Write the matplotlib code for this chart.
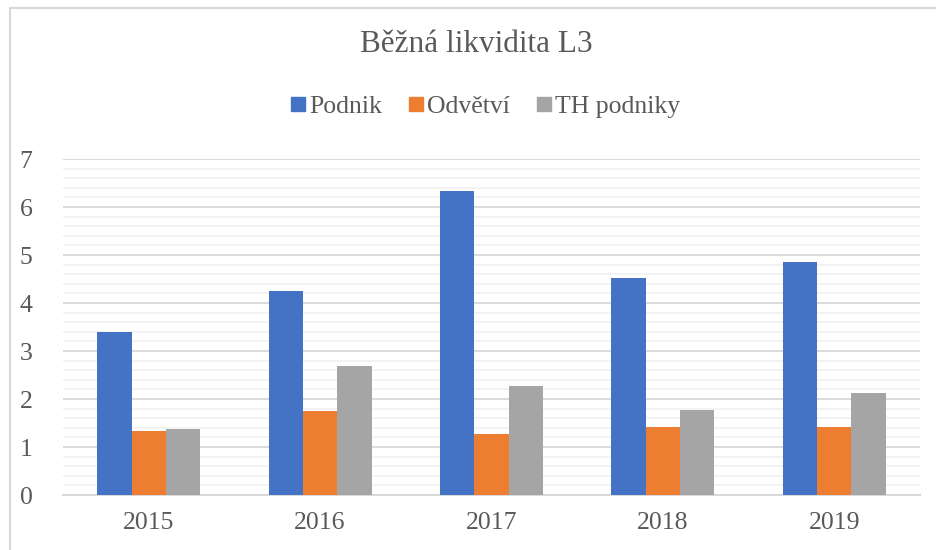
import numpy as np
import matplotlib.pyplot as plt
from matplotlib.lines import Line2D

years = ["2015", "2016", "2017", "2018", "2019"]
podnik = [3.40, 4.26, 6.34, 4.52, 4.86]
odvetvi = [1.33, 1.76, 1.28, 1.41, 1.41]
th_podniky = [1.38, 2.69, 2.28, 1.78, 2.13]
series_names = ["Podnik", "Odvětví", "TH podniky"]
colors = ["#4472C4", "#ED7D31", "#A5A5A5"]

plt.rcParams["font.family"] = ["Liberation Serif", "DejaVu Serif"]
text_color = "#595959"

fig = plt.figure(figsize=(9.36, 5.5), dpi=100)
ax = fig.add_axes([63 / 936, 1 - 495 / 550, (920 - 63) / 936, (495 - 159) / 550])

x = np.arange(len(years))
w = 0.2
for i, vals in enumerate([podnik, odvetvi, th_podniky]):
    ax.bar(x + (i - 1) * w, vals, width=w, color=colors[i], zorder=3)

ax.set_xlim(-0.5, len(years) - 0.5)
ax.set_ylim(0, 7)
ax.set_yticks(range(8))
ax.set_yticks(np.arange(0, 7.01, 0.2), minor=True)
ax.set_xticks(x)
ax.set_xticklabels(years)

ax.grid(axis="y", which="minor", color="#f2f2f2", linewidth=1.3, zorder=0)
ax.grid(axis="y", which="major", color="#d9d9d9", linewidth=1.3, zorder=1)
for s in ["top", "right", "left"]:
    ax.spines[s].set_visible(False)
ax.spines["bottom"].set_color("#d9d9d9")
ax.spines["bottom"].set_linewidth(1.5)
ax.tick_params(axis="both", which="both", length=0, labelsize=18.5, colors=text_color)
ax.tick_params(axis="y", pad=22)
ax.tick_params(axis="x", pad=12)

fig.text(476 / 936, 1 - 45 / 550, "Běžná likvidita L3", ha="center", va="center",
         fontsize=22.5, color=text_color)

handles = [Line2D([], [], marker="s", linestyle="", markersize=9.5, color=c) for c in colors]
fig.legend(handles, series_names, loc="center", bbox_to_anchor=(484 / 936, 1 - 107 / 550),
           ncol=3, frameon=False, fontsize=18.5, labelcolor=text_color,
           handletextpad=0.05, columnspacing=0.9, handlelength=0.8)

# chart area border (cropped on right and bottom)
fig.add_artist(Line2D([10 / 936, 10 / 936], [0, 1 - 8 / 550], transform=fig.transFigure,
                      color="#d9d9d9", linewidth=1.5))
fig.add_artist(Line2D([10 / 936, 1], [1 - 8 / 550, 1 - 8 / 550], transform=fig.transFigure,
                      color="#d9d9d9", linewidth=1.5))

fig.savefig("out.png", dpi=100)
